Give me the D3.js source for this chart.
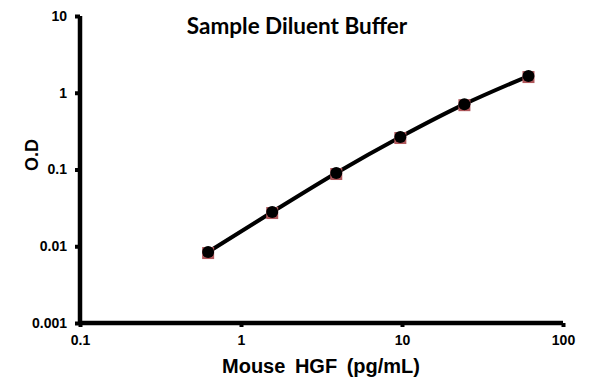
<!DOCTYPE html>
<html><head><meta charset="utf-8">
<script src="https://cdn.jsdelivr.net/npm/d3@7"></script>
<style>body{margin:0;background:#fff}svg{display:block}</style>
</head><body>
<script>
const concentrations = [0.625, 1.5625, 3.906, 9.766, 24.41, 61.03];
const odValues = [0.0084, 0.0279, 0.090, 0.265, 0.71, 1.65];
const xTicks = [0.1, 1, 10, 100];
const yTicks = [0.001, 0.01, 0.1, 1, 10];
const xTickLabels = ["0.1", "1", "10", "100"];
const yTickLabels = ["0.001", "0.01", "0.1", "1", "10"];
const title = "Sample Diluent Buffer";
const xTitle = "Mouse HGF (pg/mL)";
const yTitle = "O.D";

const W = 595, H = 384;
const svg = d3.select("body").append("svg").attr("width", W).attr("height", H);
const x = d3.scaleLog().domain([0.1, 100]).range([80, 563]);
const y = d3.scaleLog().domain([0.001, 10]).range([323, 16]);

const xAxis = d3.axisBottom(x).tickValues(xTicks).tickFormat((d, i) => xTickLabels[i]).tickSize(4).tickPadding(8);
const yAxis = d3.axisLeft(y).tickValues(yTicks).tickFormat((d, i) => yTickLabels[i]).tickSize(5).tickPadding(8);

const gx = svg.append("g").attr("transform", "translate(0,323)").call(xAxis);
const gy = svg.append("g").attr("transform", "translate(80,0)").call(yAxis);
[gx, gy].forEach(g => {
  g.select(".domain").attr("stroke", "#000").attr("stroke-width", 4.5);
  g.selectAll(".tick line").attr("stroke", "#000").attr("stroke-width", 4);
  g.selectAll(".tick text").attr("fill", "#000")
    .style("font-family", "'Liberation Sans', Arial, sans-serif")
    .style("font-weight", "bold").style("font-size", "14px");
});
gx.select(".domain").attr("d", "M80,0H563");
gy.select(".domain").attr("d", "M0,16V325");

const pts = concentrations.map((c, i) => [c, odValues[i]]);
const line = d3.line().x(d => x(d[0])).y(d => y(d[1])).curve(d3.curveMonotoneX);
svg.append("path").datum(pts).attr("d", line).attr("fill", "none")
  .attr("stroke", "#000").attr("stroke-width", 4).attr("stroke-linejoin", "round");

svg.selectAll("rect.m").data(pts).enter().append("rect").attr("class", "m")
  .attr("x", d => x(d[0]) - 6).attr("y", d => y(d[1]) - 5)
  .attr("width", 12).attr("height", 12).attr("fill", "#b0585c");
svg.selectAll("circle.m").data(pts).enter().append("circle").attr("class", "m")
  .attr("cx", d => x(d[0])).attr("cy", d => y(d[1])).attr("r", 6).attr("fill", "#000");

svg.append("text").attr("x", 297).attr("y", 34).attr("text-anchor", "middle")
  .style("font-family", "Lato, 'Open Sans', sans-serif").style("font-weight", "bold")
  .style("font-size", "22.5px").attr("fill", "#000").text(title);
svg.append("text").attr("x", 321).attr("y", 373).attr("text-anchor", "middle")
  .style("font-family", "'Liberation Sans', Arial, sans-serif").style("font-weight", "bold")
  .style("font-size", "20px").style("word-spacing", "4px").attr("fill", "#000").text(xTitle);
svg.append("text").attr("transform", "translate(38,155) rotate(-90)").attr("text-anchor", "middle")
  .style("font-family", "'Liberation Sans', Arial, sans-serif").style("font-weight", "bold")
  .style("font-size", "18px").attr("fill", "#000").text(yTitle);
</script>
</body></html>
